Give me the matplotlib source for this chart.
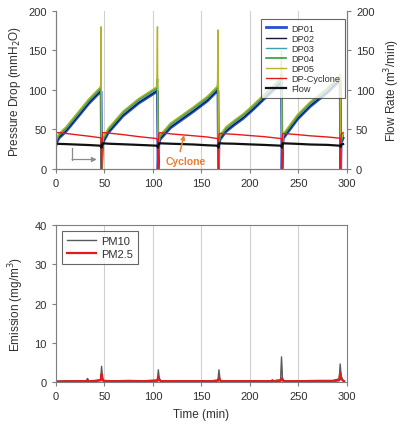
import matplotlib
matplotlib.use("Agg")
import matplotlib.pyplot as plt

plt.rcParams['font.family'] = ['Liberation Sans', 'DejaVu Sans']

# pressure drop / flow data (top panel)
t_dp = [0, 0.5, 3, 10, 20, 34, 46, 46.5, 47,
        48, 49, 54, 69, 85, 104, 104.6, 105.2,
        106, 107, 118, 142, 156, 166.5, 167, 167.5,
        168, 169, 175, 183, 193, 203, 214, 232, 232.5, 233,
        233.5, 234.5, 249, 262, 280, 292.5, 293, 293.5,
        294, 296]
dp01 = [30, 33, 39, 47, 62, 83, 98, 98, 0,
        30, 35, 46, 67, 83, 98, 98, 0,
        30, 37, 52, 73, 86, 99, 99, 0,
        30, 37, 47, 55, 64, 75, 88, 109, 109, 0,
        30, 39, 63, 79, 97, 112, 112, 0,
        33, 39]
dp02 = [31, 34, 40, 48, 63, 84, 99, 99, 0,
        31, 36, 47, 68, 84, 99, 99, 0,
        31, 38, 53, 74, 87, 100, 100, 0,
        31, 38, 48, 56, 65, 76, 89, 110, 110, 0,
        31, 40, 64, 80, 98, 113, 113, 0,
        34, 40]
dp03 = [32, 36, 42, 50, 65, 86, 101, 101, 0,
        32, 38, 49, 70, 86, 101, 101, 0,
        32, 40, 55, 76, 89, 102, 102, 0,
        32, 40, 50, 58, 67, 78, 91, 112, 112, 0,
        32, 42, 66, 82, 100, 115, 115, 0,
        35, 42]
dp04 = [33, 37, 43, 52, 67, 88, 103, 114, 0,
        33, 39, 50, 72, 88, 103, 114, 0,
        33, 41, 57, 78, 91, 104, 114, 0,
        33, 41, 52, 60, 69, 80, 93, 114, 120, 0,
        33, 43, 68, 84, 102, 117, 118, 0,
        36, 43]
dp05 = [34, 38, 45, 53, 68, 89, 104, 180, 0,
        34, 41, 52, 73, 89, 104, 180, 0,
        34, 43, 58, 79, 92, 105, 176, 0,
        34, 43, 53, 61, 70, 81, 94, 115, 150, 0,
        34, 45, 69, 85, 103, 118, 120, 0,
        37, 45]
dp_cyclone = [47, 46, 46, 45, 43.5, 41.5, 39.5, 39, 0,
              46, 46, 45.5, 43.5, 41, 38.5, 38, 0,
              45, 46, 44.5, 42, 40.5, 38.5, 38, 0,
              44, 45, 44.5, 44, 43, 42, 41, 38.5, 38, 0,
              44, 45, 43.5, 42, 40.5, 39, 38, 0,
              44, 46]
flow = [32, 32, 31.8, 31.5, 31, 30.3, 29.5, 28, 27,
        32.5, 32.5, 32, 31.3, 30.5, 29.5, 28.5, 27,
        32.5, 32.5, 32, 31, 30, 29.5, 28.5, 27,
        32.5, 32.5, 32.2, 32, 31.5, 31, 30.5, 29.5, 28.5, 27,
        32.5, 32.5, 31.8, 31, 30.5, 29.5, 29, 28,
        31, 31.5]

# emission data (bottom panel)
t_pm = [0, 10, 20, 31, 32.5, 34, 40, 46, 47, 48, 49, 60, 75, 90,
        104.5, 105.5, 106.5, 108, 120, 140, 160, 167, 168, 169, 170,
        185, 200, 215, 222, 223, 224, 231.5, 232.5, 233.5, 235,
        250, 270, 285, 292, 293, 294, 296, 297]
pm10 = [0.2, 0.3, 0.3, 0.3, 0.9, 0.3, 0.4, 0.6, 4.0, 1.2, 0.4, 0.3, 0.4, 0.3,
        0.5, 3.1, 1.0, 0.3, 0.3, 0.3, 0.3, 0.5, 3.1, 0.9, 0.3,
        0.3, 0.3, 0.3, 0.3, 0.6, 0.3, 0.6, 6.4, 1.0, 0.3,
        0.3, 0.4, 0.4, 0.8, 4.6, 1.5, 0.4, 0.3]
pm25 = [0.1, 0.15, 0.2, 0.2, 0.3, 0.2, 0.2, 0.4, 2.0, 0.6, 0.2, 0.2, 0.2, 0.2,
        0.3, 1.3, 0.5, 0.2, 0.2, 0.2, 0.2, 0.3, 1.0, 0.4, 0.2,
        0.2, 0.2, 0.2, 0.2, 0.3, 0.2, 0.3, 0.9, 0.4, 0.2,
        0.2, 0.2, 0.2, 0.4, 2.3, 0.8, 0.3, 0.2]

xticks = [0, 50, 100, 150, 200, 250, 300]
grid_x = [50, 100, 150, 200, 250]

spine_c = '#7f7f7f'
text_c = '#303030'

fig = plt.figure(figsize=(4.04, 4.31), dpi=100)
ax1 = fig.add_axes([0.1386, 0.6056, 0.7203, 0.3666])
ax2 = fig.add_axes([0.1386, 0.1114, 0.7203, 0.3642])


def style(ax):
    for s in ax.spines.values():
        s.set_color(spine_c)
        s.set_linewidth(0.8)
    ax.tick_params(colors=spine_c, labelcolor=text_c, labelsize=8,
                   length=3, width=0.8)
    for g in grid_x:
        ax.axvline(g, color='#d0d0d0', lw=0.8, zorder=0)
    ax.set_xlim(0, 300)
    ax.set_xticks(xticks)


# --- top panel ---
style(ax1)
ax1.spines['top'].set_visible(False)
ax1.plot(t_dp, dp01, color='#2a4fd0', lw=2.0, label='DP01')
ax1.plot(t_dp, dp02, color='#14143c', lw=1.0, label='DP02')
ax1.plot(t_dp, dp03, color='#3aa0b0', lw=1.0, label='DP03')
ax1.plot(t_dp, dp04, color='#2f9e3a', lw=1.2, label='DP04')
ax1.plot(t_dp, dp05, color='#b4b428', lw=1.0, label='DP05')
ax1.plot(t_dp, dp_cyclone, color='#e41a1c', lw=1.0, label='DP-Cyclone')
ax1.plot(t_dp, flow, color='#111111', lw=1.6, label='Flow')
ax1.set_ylim(0, 200)
ax1.set_yticks([0, 50, 100, 150, 200])
ax1.set_ylabel('Pressure Drop (mmH$_2$O)', fontsize=8.5, color=text_c, labelpad=4)

# annotations
ax1.plot([17, 17], [27, 12], color='#8c8c8c', lw=0.9)
ax1.annotate('', xy=(42, 12), xytext=(16.6, 12), xycoords='data',
             arrowprops=dict(arrowstyle='-|>', color='#8c8c8c', lw=0.9,
                             mutation_scale=7, shrinkA=0, shrinkB=0))
ax1.text(134, 10, 'Cyclone', color='#ed7d31', fontsize=7.5, ha='center',
         va='center', fontweight='bold')
ax1.annotate('', xy=(132, 43), xytext=(128, 22), xycoords='data',
             arrowprops=dict(arrowstyle='-|>', color='#ed7d31', lw=1.1,
                             mutation_scale=6, shrinkA=0, shrinkB=0))

ax1r = ax1.twinx()
ax1r.set_ylim(0, 200)
ax1r.set_yticks([0, 50, 100, 150, 200])
ax1r.spines['top'].set_visible(False)
for s in ax1r.spines.values():
    s.set_color(spine_c)
    s.set_linewidth(0.8)
ax1r.tick_params(colors=spine_c, labelcolor=text_c, labelsize=8, length=3, width=0.8)
ax1r.set_ylabel('Flow Rate (m$^3$/min)', fontsize=8.5, color=text_c, labelpad=6)

leg = ax1r.legend(*ax1.get_legend_handles_labels(), loc='upper right',
                  bbox_to_anchor=(0.993, 0.949), fontsize=6.6, frameon=True,
                  fancybox=False, handlelength=2.2, labelspacing=0.12,
                  borderpad=0.5, handletextpad=0.6, borderaxespad=0)
leg.get_frame().set_edgecolor('#404040')
leg.get_frame().set_linewidth(0.8)
for txt in leg.get_texts():
    txt.set_color(text_c)

# --- bottom panel ---
style(ax2)
ax2.plot(t_pm, pm10, color='#5a5a5a', lw=1.0, label='PM10')
ax2.plot(t_pm, pm25, color='#e41a1c', lw=1.6, label='PM2.5')
ax2.set_ylim(0, 40)
ax2.set_yticks([0, 10, 20, 30, 40])
ax2.set_ylabel('Emission (mg/m$^3$)', fontsize=8.5, color=text_c, labelpad=6)
ax2.set_xlabel('Time (min)', fontsize=8.5, color=text_c, labelpad=5)
leg2 = ax2.legend(loc='upper left', bbox_to_anchor=(0.02, 0.96), fontsize=8,
                  frameon=True, fancybox=False, handlelength=2.6,
                  labelspacing=0.2, borderpad=0.45, borderaxespad=0,
                  handletextpad=0.5)
leg2.get_frame().set_edgecolor('#404040')
leg2.get_frame().set_linewidth(0.8)
for txt in leg2.get_texts():
    txt.set_color(text_c)

fig.savefig('out.png', dpi=100)
